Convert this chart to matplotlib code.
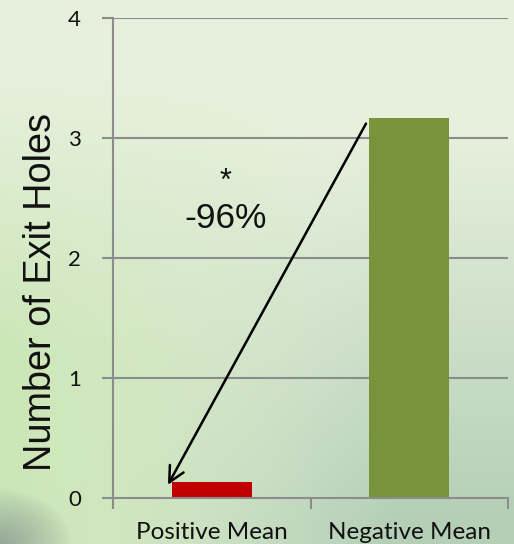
import numpy as np
import matplotlib
matplotlib.use("Agg")
import matplotlib.pyplot as plt
from matplotlib.colors import to_rgb

categories = ["Positive Mean", "Negative Mean"]
exit_holes = [0.13, 3.17]
bar_colors = ["#c00000", "#77933c"]
y_ticks = [0, 1, 2, 3, 4]
change_label = "-96%"
signif_label = "*"

W, H = 514, 544
fig = plt.figure(figsize=(W / 100, H / 100), dpi=100)

# soft green slide background
bg_ax = fig.add_axes([0, 0, 1, 1], zorder=-10)
yy, xx = np.mgrid[0:1:H * 1j, 0:1:W * 1j]
top = np.array(to_rgb("#e6f0dc"))
left = np.array(to_rgb("#cbe6b6"))
lowright = np.array(to_rgb("#b4cfb6"))
corner = np.array(to_rgb("#95a898"))
w_left = np.clip(1 - xx * 1.6, 0, 1)[..., None] * np.clip((yy - 0.15) * 2.0, 0, 1)[..., None]
w_lr = np.clip((yy - 0.25) * 1.4, 0, 1)[..., None] * np.clip(xx * 1.3, 0, 1)[..., None]
img = top * (1 - w_left - w_lr * (1 - w_left)) + left * w_left + lowright * w_lr * (1 - w_left)
img = np.clip(img, 0, 1)
dist = np.sqrt((xx / 0.14) ** 2 + ((1 - yy) / 0.10) ** 2)
w_c = np.clip(1 - dist, 0, 1)[..., None] ** 0.8
img = img * (1 - w_c) + corner * w_c
bg_ax.imshow(img, aspect="auto", extent=[0, 1, 0, 1], origin="upper")
bg_ax.axis("off")

ax = fig.add_axes([113 / W, 1 - 498 / H, (508 - 113) / W, (498 - 18) / H])
ax.patch.set_alpha(0)
x = np.arange(len(categories))
ax.bar(x, exit_holes, width=0.405, color=bar_colors, zorder=3)

grid_c = "#8c8c8c"
ax.set_xlim(-0.5, 1.5)
ax.set_ylim(0, 4)
ax.set_yticks(y_ticks)
ax.set_yticklabels([str(t) for t in y_ticks], fontsize=16,
                   family="Lato", color="#111111")
for t in y_ticks[1:]:
    ax.axhline(t, color=grid_c, lw=1.5, zorder=1)
ax.set_xticks([-0.5, 0.5, 1.5])
ax.set_xticklabels([])
ax.set_xticks(x, minor=True)
ax.set_xticklabels(categories, minor=True, fontsize=17.5, family="Lato", color="#111111")
ax.tick_params(axis="x", which="minor", length=0, pad=17)
ax.tick_params(axis="x", which="major", length=8, width=1.5, color=grid_c)
ax.tick_params(axis="y", length=8, width=1.5, color=grid_c, pad=15)
for s in ["top", "right"]:
    ax.spines[s].set_visible(False)
for s in ["left", "bottom"]:
    ax.spines[s].set_color(grid_c)
    ax.spines[s].set_linewidth(1.5)
    ax.spines[s].set_zorder(4)

fig.text(41 / W, 1 - 292 / H, "Number of Exit Holes", rotation=90,
         ha="center", va="center", fontsize=27.3, family="Liberation Sans",
         color="#111111")

ax.annotate("", xy=(-0.222, 0.11), xytext=(0.781, 3.12),
            arrowprops=dict(arrowstyle="->", color="black", lw=1.8,
                            mutation_scale=28, shrinkA=0, shrinkB=0), zorder=5)
ax.text(0.07, 2.63, signif_label, ha="center", va="center", fontsize=22,
        family="Liberation Sans", color="#111111")
ax.text(0.07, 2.33, change_label, ha="center", va="center", fontsize=25.5,
        family="Liberation Sans", color="#111111")

fig.savefig("out.png", dpi=100)
